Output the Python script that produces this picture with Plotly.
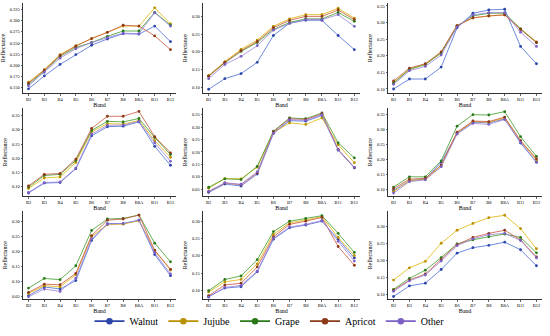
import plotly.graph_objects as go

bands = ["B2", "B3", "B4", "B5", "B6", "B7", "B8", "B8A", "B11", "B12"]
species = ["Walnut", "Jujube", "Grape", "Apricot", "Other"]
line_colors = ["#4a6cd4", "#e0b405", "#3d9a2a", "#c8563c", "#9b82dc"]
marker_colors = ["#2b44a8", "#b89000", "#2a7a1a", "#8b3a1a", "#7b5fc4"]

# Panel 1
p1_walnut = [0.147, 0.176, 0.202, 0.224, 0.245, 0.259, 0.271, 0.270, 0.288, 0.253]
p1_jujube = [0.162, 0.190, 0.224, 0.244, 0.260, 0.274, 0.288, 0.288, 0.329, 0.293]
p1_grape = [0.157, 0.187, 0.220, 0.240, 0.251, 0.265, 0.277, 0.277, 0.319, 0.290]
p1_apricot = [0.160, 0.189, 0.222, 0.243, 0.260, 0.274, 0.290, 0.288, 0.266, 0.235]
p1_other = [0.154, 0.184, 0.216, 0.237, 0.251, 0.262, 0.272, 0.271, 0.318, 0.288]
# Panel 2
p2_walnut = [0.094, 0.124, 0.138, 0.170, 0.246, 0.281, 0.289, 0.289, 0.246, 0.206]
p2_jujube = [0.133, 0.172, 0.207, 0.233, 0.272, 0.293, 0.305, 0.305, 0.323, 0.295]
p2_grape = [0.131, 0.169, 0.201, 0.226, 0.263, 0.283, 0.293, 0.293, 0.311, 0.286]
p2_apricot = [0.131, 0.170, 0.203, 0.229, 0.268, 0.289, 0.300, 0.300, 0.318, 0.291]
p2_other = [0.124, 0.164, 0.187, 0.217, 0.261, 0.280, 0.291, 0.291, 0.305, 0.272]
# Panel 3
p3_walnut = [0.100, 0.130, 0.130, 0.166, 0.284, 0.328, 0.338, 0.340, 0.228, 0.176]
p3_jujube = [0.120, 0.159, 0.174, 0.210, 0.291, 0.314, 0.320, 0.323, 0.281, 0.242]
p3_grape = [0.117, 0.159, 0.174, 0.208, 0.289, 0.320, 0.328, 0.328, 0.281, 0.240]
p3_apricot = [0.124, 0.163, 0.176, 0.212, 0.291, 0.314, 0.320, 0.323, 0.279, 0.240]
p3_other = [0.114, 0.155, 0.168, 0.202, 0.287, 0.323, 0.330, 0.330, 0.271, 0.228]
# Panel 4
p4_walnut = [0.077, 0.112, 0.114, 0.163, 0.279, 0.311, 0.313, 0.328, 0.242, 0.175]
p4_jujube = [0.093, 0.130, 0.134, 0.185, 0.293, 0.322, 0.320, 0.333, 0.262, 0.203]
p4_grape = [0.098, 0.139, 0.143, 0.192, 0.298, 0.330, 0.328, 0.340, 0.273, 0.213]
p4_apricot = [0.102, 0.143, 0.146, 0.197, 0.305, 0.348, 0.348, 0.365, 0.276, 0.219]
p4_other = [0.079, 0.114, 0.116, 0.165, 0.285, 0.316, 0.317, 0.330, 0.254, 0.189]
# Panel 5
p5_walnut = [0.037, 0.071, 0.063, 0.111, 0.274, 0.326, 0.324, 0.347, 0.208, 0.136]
p5_jujube = [0.054, 0.093, 0.092, 0.139, 0.278, 0.317, 0.311, 0.337, 0.229, 0.157]
p5_grape = [0.058, 0.092, 0.089, 0.142, 0.284, 0.337, 0.334, 0.357, 0.237, 0.176]
p5_apricot = [0.040, 0.075, 0.068, 0.116, 0.281, 0.334, 0.331, 0.354, 0.210, 0.138]
p5_other = [0.041, 0.076, 0.070, 0.120, 0.276, 0.330, 0.327, 0.350, 0.208, 0.138]
# Panel 6
p6_walnut = [0.098, 0.130, 0.136, 0.191, 0.287, 0.324, 0.322, 0.335, 0.255, 0.191]
p6_jujube = [0.094, 0.131, 0.134, 0.180, 0.289, 0.326, 0.324, 0.338, 0.262, 0.198]
p6_grape = [0.109, 0.143, 0.143, 0.196, 0.311, 0.349, 0.348, 0.359, 0.276, 0.211]
p6_apricot = [0.104, 0.135, 0.138, 0.182, 0.291, 0.328, 0.326, 0.341, 0.263, 0.203]
p6_other = [0.089, 0.127, 0.133, 0.176, 0.285, 0.320, 0.317, 0.333, 0.258, 0.192]
# Panel 7
p7_walnut = [0.054, 0.083, 0.076, 0.104, 0.237, 0.293, 0.293, 0.304, 0.190, 0.120]
p7_jujube = [0.061, 0.087, 0.083, 0.123, 0.250, 0.289, 0.291, 0.302, 0.204, 0.139]
p7_grape = [0.079, 0.111, 0.107, 0.153, 0.270, 0.308, 0.310, 0.321, 0.228, 0.166]
p7_apricot = [0.065, 0.092, 0.090, 0.128, 0.253, 0.304, 0.308, 0.321, 0.204, 0.141]
p7_other = [0.050, 0.076, 0.068, 0.112, 0.242, 0.291, 0.293, 0.304, 0.196, 0.126]
# Panel 8
p8_walnut = [0.083, 0.107, 0.111, 0.154, 0.248, 0.281, 0.289, 0.300, 0.248, 0.194]
p8_jujube = [0.096, 0.125, 0.132, 0.177, 0.262, 0.295, 0.304, 0.313, 0.253, 0.201]
p8_grape = [0.100, 0.132, 0.142, 0.189, 0.270, 0.300, 0.308, 0.316, 0.265, 0.210]
p8_apricot = [0.085, 0.116, 0.121, 0.168, 0.255, 0.291, 0.300, 0.311, 0.227, 0.173]
p8_other = [0.081, 0.109, 0.115, 0.156, 0.251, 0.283, 0.291, 0.302, 0.242, 0.185]
# Panel 9
p9_walnut = [0.094, 0.125, 0.133, 0.173, 0.221, 0.237, 0.244, 0.253, 0.231, 0.184]
p9_jujube = [0.142, 0.178, 0.197, 0.250, 0.288, 0.308, 0.325, 0.332, 0.293, 0.234]
p9_grape = [0.115, 0.147, 0.171, 0.208, 0.248, 0.260, 0.269, 0.277, 0.267, 0.222]
p9_apricot = [0.112, 0.142, 0.160, 0.202, 0.246, 0.267, 0.279, 0.288, 0.260, 0.210]
p9_other = [0.109, 0.140, 0.157, 0.198, 0.243, 0.263, 0.275, 0.279, 0.258, 0.207]

panels = [
    [p1_walnut, p1_jujube, p1_grape, p1_apricot, p1_other],
    [p2_walnut, p2_jujube, p2_grape, p2_apricot, p2_other],
    [p3_walnut, p3_jujube, p3_grape, p3_apricot, p3_other],
    [p4_walnut, p4_jujube, p4_grape, p4_apricot, p4_other],
    [p5_walnut, p5_jujube, p5_grape, p5_apricot, p5_other],
    [p6_walnut, p6_jujube, p6_grape, p6_apricot, p6_other],
    [p7_walnut, p7_jujube, p7_grape, p7_apricot, p7_other],
    [p8_walnut, p8_jujube, p8_grape, p8_apricot, p8_other],
    [p9_walnut, p9_jujube, p9_grape, p9_apricot, p9_other],
]

# y-axis settings per panel: range, tick values, tick format
y_ranges = [[0.137, 0.340], [0.0825, 0.338], [0.087, 0.359],
            [0.065, 0.377], [0.021, 0.377], [0.078, 0.371],
            [0.041, 0.334], [0.074, 0.329], [0.085, 0.344]]
y_ticks = [[0.150, 0.175, 0.200, 0.225, 0.250, 0.275, 0.300, 0.325],
           [0.10, 0.15, 0.20, 0.25, 0.30],
           [0.10, 0.15, 0.20, 0.25, 0.30, 0.35],
           [0.10, 0.15, 0.20, 0.25, 0.30, 0.35],
           [0.05, 0.10, 0.15, 0.20, 0.25, 0.30, 0.35],
           [0.10, 0.15, 0.20, 0.25, 0.30, 0.35],
           [0.05, 0.10, 0.15, 0.20, 0.25, 0.30],
           [0.10, 0.15, 0.20, 0.25, 0.30],
           [0.10, 0.15, 0.20, 0.25, 0.30]]
y_fmt = [".3f"] + [".2f"] * 8

W, H = 550, 336
col_px = [(23, 176), (203, 360), (388, 542)]
row_px = [(3, 95), (110, 200), (215, 305)]

FONT = "Liberation Serif, Times New Roman, serif"
fig = go.Figure()

for i, series in enumerate(panels):
    r, c = divmod(i, 3)
    ax = "" if i == 0 else str(i + 1)
    for name, lc, mc, vals in zip(species, line_colors, marker_colors, series):
        fig.add_trace(go.Scatter(
            x=bands, y=vals, mode="lines+markers", name=name,
            legendgroup=name, showlegend=False,
            line=dict(color=lc, width=0.8),
            marker=dict(color=mc, size=2.8),
            xaxis="x" + ax, yaxis="y" + ax,
        ))
    x0, x1 = col_px[c]
    t0, t1 = row_px[r]
    fig.layout["xaxis" + ax] = dict(
        domain=[x0 / W, x1 / W], anchor="y" + ax,
        type="category", categoryorder="array", categoryarray=bands,
        range=[-0.35, 9.35],
        showline=True, linecolor="black", linewidth=0.8,
        showgrid=False, zeroline=False,
        ticks="outside", ticklen=1.5, tickwidth=0.6, tickcolor="black",
        tickfont=dict(size=4.5, family=FONT, color="black"),
        title=dict(text="Band", font=dict(size=6, family=FONT, color="black"), standoff=1),
    )
    fig.layout["yaxis" + ax] = dict(
        domain=[1 - t1 / H, 1 - t0 / H], anchor="x" + ax,
        range=y_ranges[i], tickvals=y_ticks[i], tickformat=y_fmt[i],
        showline=True, linecolor="black", linewidth=0.8,
        showgrid=False, zeroline=False,
        ticks="outside", ticklen=1.5, tickwidth=0.6, tickcolor="black",
        tickfont=dict(size=4.5, family=FONT, color="black"),
        title=dict(text="Reflectance", font=dict(size=6, family=FONT, color="black"), standoff=3),
    )

# legend entries (larger symbols, as in the reference legend)
for name, mc in zip(species, marker_colors):
    fig.add_trace(go.Scatter(
        x=[None], y=[None], mode="lines+markers", name=name, legendgroup=name,
        showlegend=True, line=dict(color=mc, width=1.6),
        marker=dict(color=mc, size=6.5), xaxis="x", yaxis="y",
    ))

fig.update_layout(
    width=W, height=H,
    margin=dict(l=0, r=0, t=0, b=0),
    paper_bgcolor="white", plot_bgcolor="white",
    font=dict(family=FONT, color="black"),
    hovermode=False,
    legend=dict(orientation="h", x=0.49, xanchor="center", y=1 - 327 / H, yanchor="middle",
                font=dict(size=10, family=FONT, color="black"),
                itemwidth=30, tracegroupgap=0),
)

fig.write_html(
    "out.html",
    config={"displayModeBar": False, "staticPlot": True},
    post_script="document.body.style.margin='0';document.documentElement.style.overflow='hidden';",
)
